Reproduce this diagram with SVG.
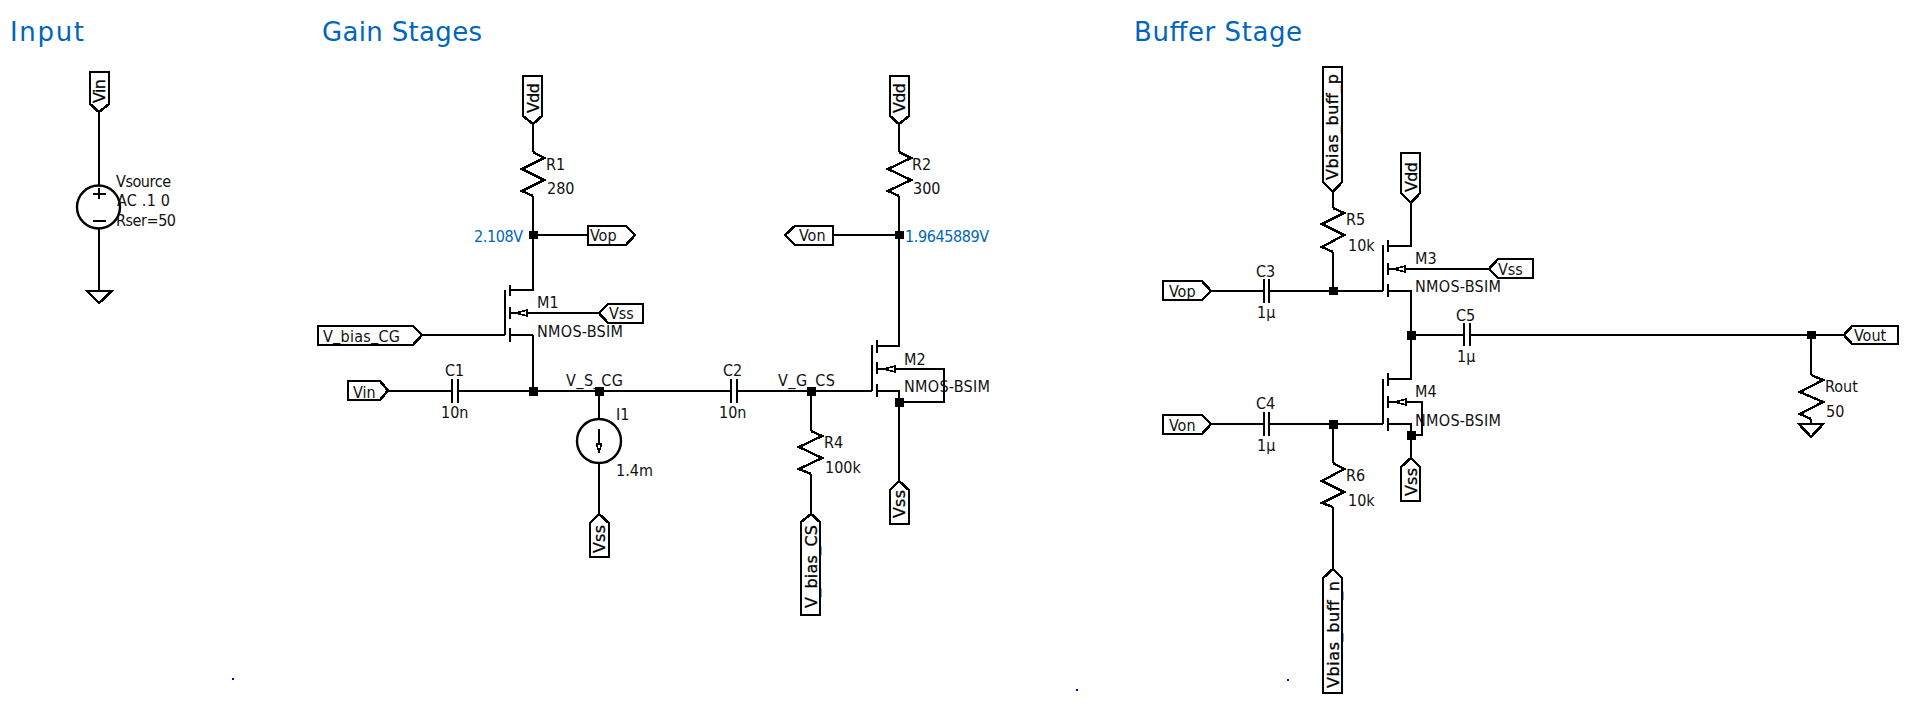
<svg xmlns="http://www.w3.org/2000/svg" width="1905" height="704" viewBox="0 0 1905 704">
<style>
.w{fill:none;stroke:#000;stroke-width:2.4;shape-rendering:crispEdges}
.f{fill:#fff;stroke:#000;stroke-width:2.6;shape-rendering:crispEdges}
.c{fill:none;stroke:#000;stroke-width:2.4}
.j{fill:#000}
.a{fill:#fff;stroke:#000;stroke-width:1.6;shape-rendering:crispEdges}
text{font-family:"DejaVu Sans Condensed","DejaVu Sans",sans-serif;font-stretch:condensed;font-size:16px;fill:#111}
.v{font-family:"DejaVu Sans",sans-serif;font-stretch:normal;font-size:16px;fill:#000;stroke:#000;stroke-width:.3}
.b{fill:#0066bb}
.t{font-family:"DejaVu Sans",sans-serif;font-stretch:normal;font-size:26px;fill:#0066bb}
</style>
<rect width="1905" height="704" fill="#fff"/>
<g id="titles">
<text class="t" x="10" y="41" textLength="74">Input</text>
<text class="t" x="322" y="41" textLength="160">Gain Stages</text>
<text class="t" x="1134" y="41" textLength="168">Buffer Stage</text>
</g>
<g id="connectors">
<path class="w" d="M99 112V185M99 229V291"/>
<path class="w" d="M533 124V152M533 196V290H510M533 335H510M533 335V391M533 235H588"/>
<path class="w" d="M422 335H505M380 391H452M458 391H731M599 391V419M599 463V514"/>
<path class="w" d="M527 313H599"/>
<path class="w" d="M899 124V152M899 196V346H877M833 235H899"/>
<path class="w" d="M737 391H872M877 391H899V481M811 391V431M811 474V514"/>
<path class="w" d="M895 369H944V402H899"/>
<path class="w" d="M1333 192V208M1333 252V291M1211 291H1264M1269 291H1383"/>
<path class="w" d="M1388 246H1411V203M1405 269H1489M1388 291H1411V379H1388"/>
<path class="w" d="M1411 335H1464M1470 335H1844M1811 335V375M1811 419V424"/>
<path class="w" d="M1211 424H1264M1269 424H1383M1333 424V463M1333 507V569"/>
<path class="w" d="M1388 424H1411V458M1406 402H1422V435H1411"/>
</g>
<g id="junctions">
<rect class="j" x="529" y="231" width="9" height="8"/>
<rect class="j" x="529" y="387" width="9" height="9"/>
<rect class="j" x="595" y="387" width="9" height="9"/>
<rect class="j" x="895" y="231" width="9" height="8"/>
<rect class="j" x="807" y="387" width="9" height="9"/>
<rect class="j" x="895" y="398" width="9" height="9"/>
<rect class="j" x="1329" y="287" width="9" height="8"/>
<rect class="j" x="1407" y="331" width="9" height="9"/>
<rect class="j" x="1807" y="331" width="9" height="8"/>
<rect class="j" x="1329" y="420" width="9" height="9"/>
<rect class="j" x="1407" y="431" width="9" height="9"/>
</g>
<g id="Vsource">
<circle class="c" cx="98.500" cy="207" r="21.500"/>
<path class="w" d="M93 194H106M99 188V199M93 221H106"/>
<text x="116" y="187" textLength="55">Vsource</text>
<text x="117" y="206" textLength="53">AC .1 0</text>
<text x="116" y="226" textLength="60">Rser=50</text>
</g>
<g id="flag-Vin-top"><path class="f" d="M90 72H109V104L99 112L90 104Z"/><text class="v" transform="translate(105 103) rotate(-90)" textLength="24">Vin</text></g>
<g id="gnd-source"><path class="f" d="M87 291H112L99 303Z"/></g>
<g id="flag-Vdd-1"><path class="f" d="M523 76H542V116L533 124L523 116Z"/><text class="v" transform="translate(539 113) rotate(-90)" textLength="30">Vdd</text></g>
<g id="R1"><path class="w" d="M533 152L544 158L522 169L544 180L522 191L533 196"/><text x="546" y="170">R1</text><text x="547" y="194">280</text></g>
<g id="label-vop"><text class="b" x="474" y="242" textLength="49">2.108V</text></g>
<g id="flag-Vop-1"><path class="f" d="M588 226H626L635 235L626 245H588Z"/><text x="590" y="241">Vop</text></g>
<g id="M1">
<path class="w" d="M505 290V335M510 285V296M510 307V319M510 328V342M510 313H517"/>
<path class="a" d="M516 313L527 310V316Z"/>
<text x="537" y="308">M1</text><text x="537" y="337" textLength="86">NMOS-BSIM</text>
</g>
<g id="flag-Vss-M1"><path class="f" d="M599 313L608 304H643V323H608Z"/><text x="609" y="319">Vss</text></g>
<g id="flag-V_bias_CG"><path class="f" d="M318 326H413L422 335L413 345H318Z"/><text x="323" y="342" textLength="77">V<tspan dy="-2">_</tspan><tspan dy="2">bias</tspan><tspan dy="-2">_</tspan><tspan dy="2">CG</tspan></text></g>
<g id="flag-Vin"><path class="f" d="M348 381H380L388 390.500L380 400H348Z"/><text x="353" y="398">Vin</text></g>
<g id="C1"><path class="w" d="M452 379V403M458 379V403"/><text x="445" y="376">C1</text><text x="441" y="418">10n</text></g>
<g id="net-V_S_CG"><text x="566" y="386" textLength="57">V<tspan dy="-1">_</tspan><tspan dy="1">S</tspan><tspan dy="-1">_</tspan><tspan dy="1">CG</tspan></text></g>
<g id="C2"><path class="w" d="M731 379V403M737 379V403"/><text x="723" y="376">C2</text><text x="719" y="418">10n</text></g>
<g id="I1">
<circle class="c" cx="599" cy="441" r="22"/>
<path class="w" d="M599 429V446"/><path class="a" d="M596.500 444H601.500L599 452Z"/>
<text x="616" y="420">I1</text><text x="616" y="476">1.4m</text>
</g>
<g id="flag-Vss-I1"><path class="f" d="M599 514L609 523V557H590V523Z"/><text class="v" transform="translate(605 553) rotate(-90)" textLength="28">Vss</text></g>
<g id="flag-Vdd-2"><path class="f" d="M890 76H909V116L899 124L890 116Z"/><text class="v" transform="translate(905 113) rotate(-90)" textLength="30">Vdd</text></g>
<g id="R2"><path class="w" d="M899 152L911 158L888 169L911 180L888 191L899 196"/><text x="912" y="170">R2</text><text x="913" y="194">300</text></g>
<g id="flag-Von-1"><path class="f" d="M785 235L795 226H833V245H795Z"/><text x="799" y="241">Von</text></g>
<g id="label-von"><text class="b" x="905" y="242" textLength="84">1.9645889V</text></g>
<g id="M2">
<path class="w" d="M872 345V391M877 340V353M877 362V374M877 384V397M877 369H884"/>
<path class="a" d="M884 369L895 366V372Z"/>
<text x="904" y="365">M2</text><text x="904" y="392" textLength="86">NMOS-BSIM</text>
</g>
<g id="flag-Vss-M2"><path class="f" d="M899 481L909 490V524H890V490Z"/><text class="v" transform="translate(905 518) rotate(-90)" textLength="28">Vss</text></g>
<g id="net-V_G_CS"><text x="778" y="386" textLength="57">V<tspan dy="-1">_</tspan><tspan dy="1">G</tspan><tspan dy="-1">_</tspan><tspan dy="1">CS</tspan></text></g>
<g id="R4"><path class="w" d="M811 431L822 436L799 447L822 458L799 469L811 474"/><text x="824" y="448">R4</text><text x="825" y="473">100k</text></g>
<g id="flag-V_bias_CS"><path class="f" d="M811 514L820 522V615H801V522Z"/><text class="v" transform="translate(817 608) rotate(-90)" textLength="83">V_bias_CS</text></g>
<g id="flag-Vbias_buff_p"><path class="f" d="M1323 67H1342V182L1333 192L1323 182Z"/><text class="v" transform="translate(1338 180) rotate(-90)" textLength="106">Vbias_buff_p</text></g>
<g id="R5"><path class="w" d="M1333 208L1344 213L1322 224L1344 235L1322 247L1333 252"/><text x="1346" y="225">R5</text><text x="1348" y="251">10k</text></g>
<g id="flag-Vop-2"><path class="f" d="M1163 281H1202L1211 291L1202 300H1163Z"/><text x="1169" y="297">Vop</text></g>
<g id="C3"><path class="w" d="M1264 279V303M1269 279V303"/><text x="1256" y="277">C3</text><text x="1257" y="318">1µ</text></g>
<g id="M3">
<path class="w" d="M1383 245V291M1388 240V252M1388 263V275M1388 284V297M1388 269H1395"/>
<path class="a" d="M1394 269L1405 266V272Z"/>
<text x="1415" y="264">M3</text><text x="1415" y="292" textLength="86">NMOS-BSIM</text>
</g>
<g id="flag-Vdd-3"><path class="f" d="M1401 153H1420V193L1411 203L1401 193Z"/><text class="v" transform="translate(1417 192) rotate(-90)" textLength="30">Vdd</text></g>
<g id="flag-Vss-M3"><path class="f" d="M1489 269L1498 259H1533V278H1498Z"/><text x="1498" y="275">Vss</text></g>
<g id="C5"><path class="w" d="M1464 323V346M1470 323V346"/><text x="1456" y="321">C5</text><text x="1457" y="362">1µ</text></g>
<g id="flag-Vout"><path class="f" d="M1844 335L1852 326H1898V344H1852Z"/><text x="1854" y="341">Vout</text></g>
<g id="Rout"><path class="w" d="M1811 375L1823 380L1800 392L1823 402L1800 414L1811 419"/><text x="1825" y="392">Rout</text><text x="1826" y="417">50</text></g>
<g id="gnd-out"><path class="f" d="M1799 424H1823L1811 437Z"/></g>
<g id="flag-Von-2"><path class="f" d="M1163 415H1202L1211 424L1202 434H1163Z"/><text x="1169" y="431">Von</text></g>
<g id="C4"><path class="w" d="M1264 412V436M1269 412V436"/><text x="1256" y="409">C4</text><text x="1257" y="451">1µ</text></g>
<g id="M4">
<path class="w" d="M1383 379V424M1388 373V386M1388 396V408M1388 418V431M1388 402H1395"/>
<path class="a" d="M1395 402L1406 399V405Z"/>
<text x="1415" y="397">M4</text><text x="1415" y="426" textLength="86">NMOS-BSIM</text>
</g>
<g id="flag-Vss-M4"><path class="f" d="M1411 458L1420 467V501H1401V467Z"/><text class="v" transform="translate(1417 496) rotate(-90)" textLength="28">Vss</text></g>
<g id="R6"><path class="w" d="M1333 463L1344 469L1322 481L1344 492L1322 503L1333 507"/><text x="1346" y="481">R6</text><text x="1348" y="506">10k</text></g>
<g id="flag-Vbias_buff_n"><path class="f" d="M1333 569L1342 578V693H1323V578Z"/><text class="v" transform="translate(1339 688) rotate(-90)" textLength="107">Vbias_buff_n</text></g>
<g id="markers" fill="#0000cc">
<rect x="232" y="678" width="2" height="2"/>
<rect x="1076" y="689" width="2" height="2"/>
<rect x="1287" y="679" width="2" height="2"/>
</g>
</svg>
